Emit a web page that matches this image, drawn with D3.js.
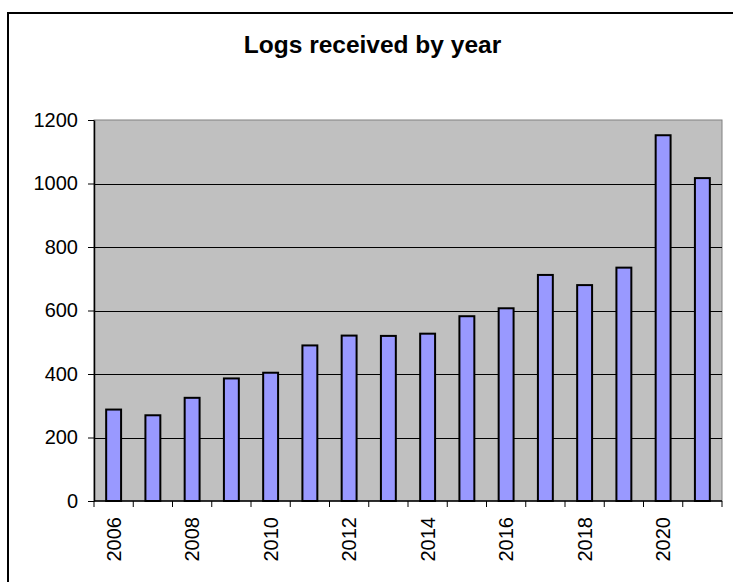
<!DOCTYPE html>
<html>
<head>
<meta charset="utf-8">
<script src="https://cdn.jsdelivr.net/npm/d3@7"></script>
<style>
  body { margin: 0; background: #fff; }
  svg { font-family: "Liberation Sans", Arial, sans-serif; }
</style>
</head>
<body>
<div class="chart"></div>
<script>
// Data
const years = [2006, 2007, 2008, 2009, 2010, 2011, 2012, 2013, 2014, 2015, 2016, 2017, 2018, 2019, 2020, 2021];
const logs = [288, 270, 325, 386, 404, 490, 521, 520, 527, 582, 607, 712, 680, 735, 1152, 1017];
const yTicks = [0, 200, 400, 600, 800, 1000, 1200];
const labelYears = [2006, 2008, 2010, 2012, 2014, 2016, 2018, 2020];

const W = 733, H = 582;
const plot = {left: 94, top: 120, right: 722, bottom: 501};

const svg = d3.select(".chart").append("svg")
    .attr("width", W)
    .attr("height", H);

// chart area frame
svg.append("rect")
    .attr("x", 8).attr("y", 13)
    .attr("width", 740).attr("height", 600)
    .attr("fill", "#fff")
    .attr("stroke", "#000")
    .attr("stroke-width", 2);

svg.append("text")
    .attr("x", 372.5)
    .attr("y", 53)
    .attr("text-anchor", "middle")
    .attr("font-size", 24.5)
    .attr("font-weight", "bold")
    .text("Logs received by year");

// scales
const x = d3.scaleBand()
    .domain(years)
    .range([plot.left, plot.right])
    .padding(0);

const y = d3.scaleLinear()
    .domain([0, 1200])
    .range([plot.bottom, plot.top]);

// plot background
svg.append("rect")
    .attr("x", plot.left).attr("y", plot.top)
    .attr("width", plot.right - plot.left)
    .attr("height", plot.bottom - plot.top)
    .attr("fill", "#c0c0c0")
    .attr("stroke", "#808080")
    .attr("stroke-width", 1);

// gridlines
svg.append("g")
    .selectAll("line")
    .data(yTicks.filter(d => d > 0 && d < 1200))
    .join("line")
    .attr("x1", plot.left).attr("x2", plot.right)
    .attr("y1", d => Math.round(y(d)) + 0.5)
    .attr("y2", d => Math.round(y(d)) + 0.5)
    .attr("stroke", "#000")
    .attr("stroke-width", 1);

// bars
const barW = x.bandwidth() * 0.38;
svg.append("g")
    .selectAll("rect")
    .data(years)
    .join("rect")
    .attr("x", (d) => x(d) + (x.bandwidth() - barW) / 2)
    .attr("y", (d, i) => y(logs[i]))
    .attr("width", barW)
    .attr("height", (d, i) => plot.bottom - y(logs[i]))
    .attr("fill", "#9999ff")
    .attr("stroke", "#000")
    .attr("stroke-width", 2);

// y axis
const yAxis = d3.axisLeft(y)
    .tickValues(yTicks)
    .tickFormat(d3.format("d"))
    .tickSize(6)
    .tickSizeOuter(0)
    .tickPadding(10);

const yg = svg.append("g")
    .attr("transform", `translate(${plot.left},0)`)
    .call(yAxis);
yg.selectAll("text").attr("font-size", 20).attr("fill", "#000").attr("font-family", "Liberation Sans, Arial, sans-serif");
yg.selectAll("line").attr("stroke", "#000");
yg.select(".domain").attr("stroke", "#000").attr("stroke-width", 1.5);

// x axis: ticks at category boundaries
const xg = svg.append("g");
xg.append("line")
    .attr("x1", plot.left).attr("x2", plot.right)
    .attr("y1", plot.bottom).attr("y2", plot.bottom)
    .attr("stroke", "#000").attr("stroke-width", 1.5);

xg.selectAll("line.tick")
    .data(years.concat([null]))
    .join("line")
    .attr("class", "tick")
    .attr("x1", (d, i) => plot.left + i * x.step())
    .attr("x2", (d, i) => plot.left + i * x.step())
    .attr("y1", plot.bottom).attr("y2", plot.bottom + 6)
    .attr("stroke", "#000").attr("stroke-width", 1);

xg.selectAll("text")
    .data(labelYears)
    .join("text")
    .attr("transform", d => `translate(${x(d) + x.bandwidth() / 2},517) rotate(-90)`)
    .attr("text-anchor", "end")
    .attr("dy", "0.35em")
    .attr("font-size", 20)
    .text(d => d);
</script>
</body>
</html>
